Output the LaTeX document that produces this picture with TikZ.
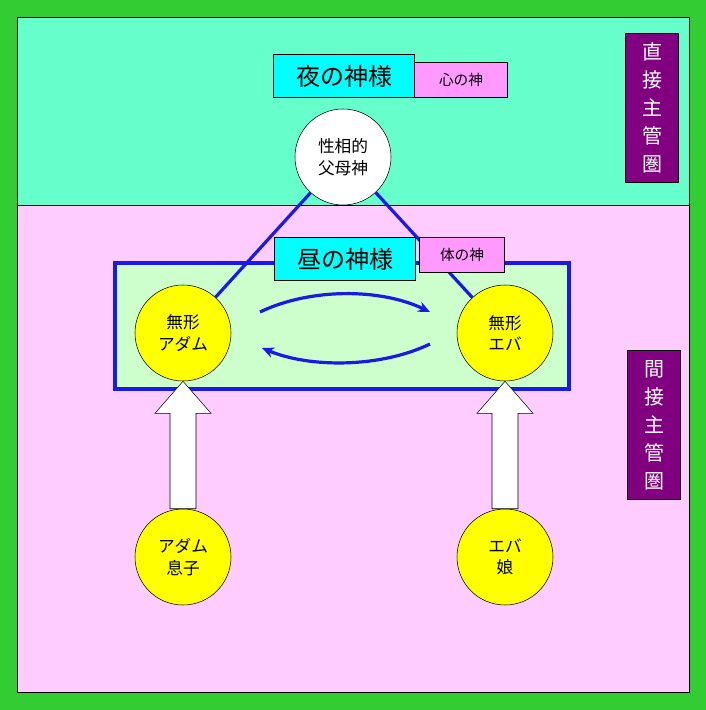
\documentclass[tikz,border=0pt]{standalone}
\usepackage{fontspec}
\newfontfamily\cjk{Noto Sans CJK JP}
\usetikzlibrary{arrows.meta,calc}
\definecolor{bggreen}{HTML}{33CC33}
\definecolor{teal1}{HTML}{66FFCC}
\definecolor{pink1}{HTML}{FFCCFF}
\definecolor{cyan1}{HTML}{00FFFF}
\definecolor{vio1}{HTML}{FF99FF}
\definecolor{lgreen}{HTML}{CCFFCC}
\definecolor{purp}{HTML}{800080}
\definecolor{yel}{HTML}{FFFF00}
\definecolor{blu}{HTML}{1A1AE6}
\begin{document}
\begin{tikzpicture}[x=0.75pt,y=-0.75pt,font=\cjk,
  circ/.style={circle,draw=black,minimum size=72pt,inner sep=0pt,align=center,font=\cjk\fontsize{12.5}{16}\selectfont},
  titlebox/.style={draw=black,fill=cyan1,minimum width=106pt,minimum height=32pt,font=\cjk\fontsize{18}{20}\selectfont},
  subbox/.style={draw=black,fill=vio1,font=\cjk\fontsize{11}{13}\selectfont},
  vbox/.style={draw=black,fill=purp,text=white,minimum width=40pt,minimum height=112pt,align=center,font=\cjk\fontsize{15}{21}\selectfont},
  bline/.style={draw=blu,line width=2.4pt},
  barrow/.style={draw=blu,line width=2.4pt,-{Stealth[length=9pt,width=8pt]}},
  bigarrow/.style={draw=black,fill=white}]
\fill[bggreen] (0,0) rectangle (706,710);
\draw[fill=teal1] (17,17) rectangle (689,207);
\draw[fill=pink1] (17,205) rectangle (689,692);
\draw[bline,fill=lgreen] (115,263) rectangle (569,389);
\node[circ,fill=white] (god) at (343,157) {性相的\\父母神};
\node[circ,fill=yel] (ma) at (183,333) {無形\\アダム};
\node[circ,fill=yel] (me) at (505,333) {無形\\エバ};
\node[circ,fill=yel] (son) at (183,557) {アダム\\息子};
\node[circ,fill=yel] (dau) at (505,557) {エバ\\娘};
\draw[bline] (god) -- (ma);
\draw[bline] (god) -- (me);
\node[titlebox] (night) at (344,76) {夜の神様};
\node[subbox,minimum width=70pt,minimum height=26pt] (mind) at (461,80) {心の神};
\node[titlebox] (day) at (345,259) {昼の神様};
\node[subbox,minimum width=64pt,minimum height=26pt] (body) at (462,255) {体の神};
\coordinate (a1) at (260,312); \coordinate (a2) at (430,312);
\coordinate (b1) at (430,344); \coordinate (b2) at (262,348);
\draw[barrow] (a1) .. controls (310,288) and (380,288) .. (a2);
\draw[barrow] (b1) .. controls (380,368) and (310,368) .. (b2);
\foreach \t/\b in {ma/son,me/dau}{
  \draw[bigarrow] (\t.south) -- ($(\t.south)+(28,32)$) -- ($(\t.south)+(13,32)$) -- ($(\b.north)+(13,0)$)
    -- ($(\b.north)+(-13,0)$) -- ($(\t.south)+(-13,32)$) -- ($(\t.south)+(-28,32)$) -- cycle;
}
\node[vbox] (direct) at (652,108) {直\\接\\主\\管\\圏};
\node[vbox] (indirect) at (654,425) {間\\接\\主\\管\\圏};
\end{tikzpicture}
\end{document}
